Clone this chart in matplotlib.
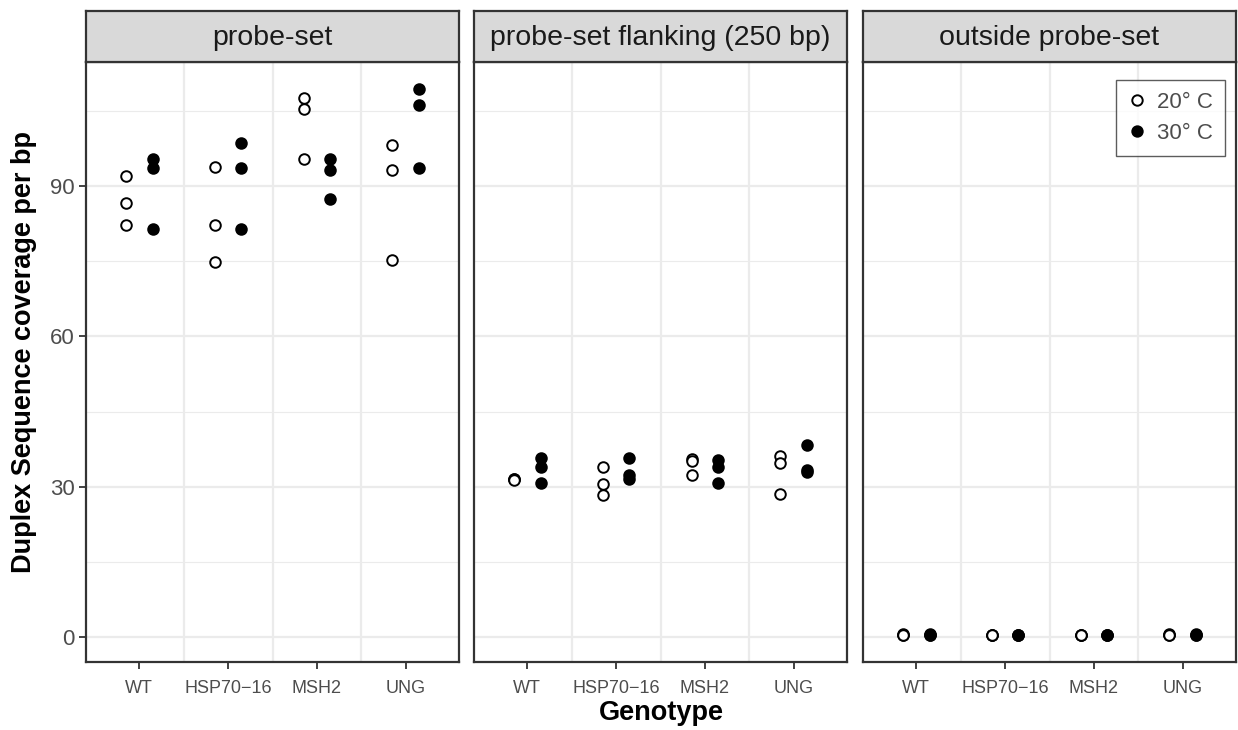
import numpy as np
import matplotlib.pyplot as plt
from matplotlib.lines import Line2D

plt.rcParams['font.family'] = ['Liberation Sans', 'DejaVu Sans']

# --- DATA ---
genotypes = ["WT", "HSP70\u221216", "MSH2", "UNG"]
panels = ["probe-set", "probe-set flanking (250 bp)", "outside probe-set"]

# values per panel -> genotype -> replicates
probe_20 = [[92.1, 86.7, 82.3], [93.9, 82.3, 74.8], [107.7, 105.5, 95.5], [98.3, 93.3, 75.2]]
probe_30 = [[95.4, 93.7, 81.4], [98.7, 93.6, 81.4], [95.5, 93.3, 87.4], [109.4, 106.2, 93.7]]
flank_20 = [[31.6, 31.5, 31.4], [33.9, 30.6, 28.3], [35.5, 35.2, 32.3], [36.1, 34.7, 28.6]]
flank_30 = [[35.7, 34.0, 30.8], [35.8, 32.3, 31.5], [35.3, 33.9, 30.8], [38.4, 33.3, 32.9]]
out_20 = [[0.5, 0.45, 0.4], [0.45, 0.4, 0.35], [0.45, 0.4, 0.35], [0.5, 0.45, 0.4]]
out_30 = [[0.5, 0.45, 0.4], [0.45, 0.4, 0.35], [0.45, 0.4, 0.35], [0.5, 0.45, 0.4]]

data_20 = [probe_20, flank_20, out_20]
data_30 = [probe_30, flank_30, out_30]

W, H = 1238, 730
fig = plt.figure(figsize=(W / 100, H / 100), dpi=100)

lefts = [86, 474, 863]
pw = 373
top_px, bot_px = 62, 662
strip_top = 11
dark = "#333333"
grid_col = "#EBEBEB"
dodge = 0.15

for i, name in enumerate(panels):
    ax = fig.add_axes([lefts[i] / W, (H - bot_px) / H, pw / W, (bot_px - top_px) / H])
    ax.set_xlim(0.4, 4.6)
    ax.set_ylim(-5, 114.8)

    # grid like ggplot theme_bw
    for y in [15, 45, 75, 105]:
        ax.axhline(y, color=grid_col, lw=0.8, zorder=0)
    for y in [0, 30, 60, 90]:
        ax.axhline(y, color=grid_col, lw=1.6, zorder=0)
    for x in [1.5, 2.5, 3.5]:
        ax.axvline(x, color=grid_col, lw=1.6, zorder=0)

    for g in range(len(genotypes)):
        v20 = data_20[i][g]
        v30 = data_30[i][g]
        ax.scatter([g + 1 - dodge] * len(v20), v20, s=58, facecolor="white",
                   edgecolor="black", linewidth=1.4, zorder=3)
        ax.scatter([g + 1 + dodge] * len(v30), v30, s=58, facecolor="black",
                   edgecolor="black", linewidth=1.4, zorder=3)

    ax.set_xticks(range(1, 5))
    ax.set_xticklabels(genotypes, fontsize=13, color="#4D4D4D")
    ax.set_yticks([0, 30, 60, 90])
    if i == 0:
        ax.set_yticklabels(["0", "30", "60", "90"], fontsize=16, color="#4D4D4D")
        ax.tick_params(axis="y", length=5, width=1.3, color=dark, pad=3)
    else:
        ax.tick_params(axis="y", length=0, labelleft=False)
    ax.tick_params(axis="x", length=5, width=1.3, color=dark, pad=8)
    for sp in ax.spines.values():
        sp.set_color(dark)
        sp.set_linewidth(1.6)

    # strip
    sax = fig.add_axes([lefts[i] / W, (H - top_px) / H, pw / W, (top_px - strip_top) / H])
    sax.set_facecolor("#D9D9D9")
    sax.set_xticks([])
    sax.set_yticks([])
    for sp in sax.spines.values():
        sp.set_color(dark)
        sp.set_linewidth(1.6)
    sax.text(0.5, 0.48, name, ha="center", va="center", fontsize=20.5,
             color="#1A1A1A", transform=sax.transAxes)

    if i == 2:
        handles = [
            Line2D([], [], marker="o", ls="", markerfacecolor="white",
                   markeredgecolor="black", markersize=7.5, markeredgewidth=1.4, label="20\u00b0 C"),
            Line2D([], [], marker="o", ls="", markerfacecolor="black",
                   markeredgecolor="black", markersize=7.5, markeredgewidth=1.4, label="30\u00b0 C"),
        ]
        leg = ax.legend(handles=handles, loc="upper right", bbox_to_anchor=(0.9705, 0.97),
                        fontsize=16, frameon=True, fancybox=False, handlelength=0.8,
                        handletextpad=0.5, borderpad=0.55, labelspacing=0.45,
                        borderaxespad=0.0, labelcolor="#4D4D4D")
        leg.get_frame().set_edgecolor(dark)
        leg.get_frame().set_linewidth(1.0)

fig.text(24 / W, 1 - 352 / H, "Duplex Sequence coverage per bp", rotation=90,
         ha="center", va="center", fontsize=19.5, fontweight="bold")
fig.text(661 / W, 1 - 713 / H, "Genotype", ha="center", va="center",
         fontsize=19.5, fontweight="bold")

fig.savefig("out.png", dpi=100)
